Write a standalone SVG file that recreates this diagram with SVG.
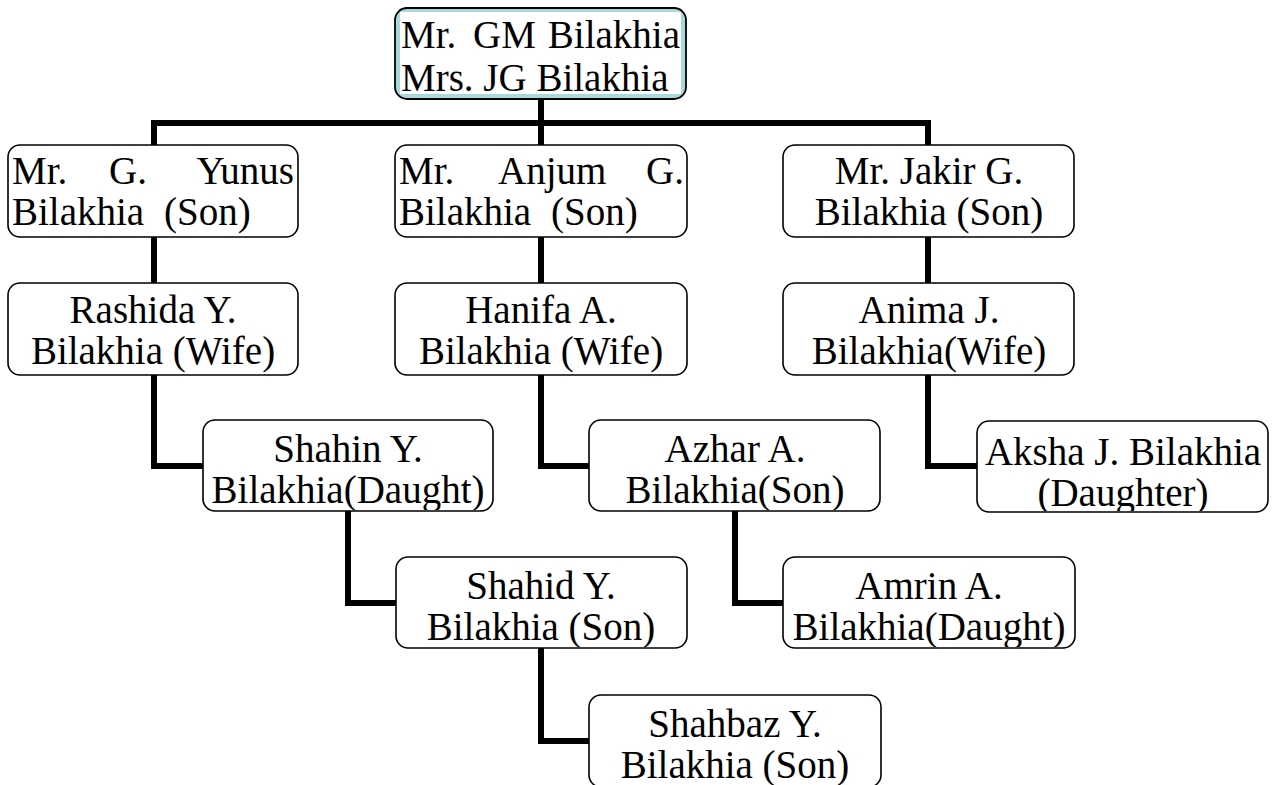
<svg xmlns="http://www.w3.org/2000/svg" width="1274" height="785" viewBox="0 0 1274 785">
  <style>
    .box { fill: #ffffff; stroke: #000000; stroke-width: 1.6; }
    .txt { font-family: "Liberation Serif", "Times New Roman", serif; font-size: 39px; fill: #000000; }
    .mid { text-anchor: middle; }
    .end { text-anchor: end; }
    .conn { fill: none; stroke: #000000; stroke-width: 6; stroke-linejoin: miter; stroke-linecap: butt; }
  </style>
  <defs>
    <clipPath id="c0"><rect x="395" y="8" width="291" height="91"/></clipPath>
    <clipPath id="c1"><rect x="8" y="145" width="290" height="92"/></clipPath>
    <clipPath id="c2"><rect x="395" y="145" width="292" height="92"/></clipPath>
    <clipPath id="c3"><rect x="783" y="145" width="291" height="92"/></clipPath>
    <clipPath id="c4"><rect x="8" y="283" width="290" height="92"/></clipPath>
    <clipPath id="c5"><rect x="395" y="283" width="292" height="92"/></clipPath>
    <clipPath id="c6"><rect x="783" y="283" width="291" height="92"/></clipPath>
    <clipPath id="c7"><rect x="203" y="420" width="290" height="90"/></clipPath>
    <clipPath id="c8"><rect x="589" y="420" width="291" height="90"/></clipPath>
    <clipPath id="c9"><rect x="977" y="421" width="291" height="90"/></clipPath>
    <clipPath id="c10"><rect x="396" y="557" width="291" height="90"/></clipPath>
    <clipPath id="c11"><rect x="783" y="557" width="292" height="90"/></clipPath>
    <clipPath id="c12"><rect x="589" y="695" width="292" height="92"/></clipPath>
  </defs>
  <rect x="0" y="0" width="1274" height="785" fill="#ffffff"/>

  <g id="connectors">
    <path class="conn" d="M541,99 V145"/>
    <path class="conn" d="M154,145 V123 H928 V145"/>
    <path class="conn" d="M154,237 V283"/>
    <path class="conn" d="M541,237 V283"/>
    <path class="conn" d="M928,237 V283"/>
    <path class="conn" d="M154,375 V466 H203"/>
    <path class="conn" d="M541,375 V466 H589"/>
    <path class="conn" d="M928,375 V466 H977"/>
    <path class="conn" d="M348,511 V603 H396"/>
    <path class="conn" d="M735,511 V603 H783"/>
    <path class="conn" d="M541,648 V741 H589"/>
  </g>

  <g id="n0">
    <rect x="395" y="8" width="291" height="91" rx="12" fill="#a9d9da" stroke="#000" stroke-width="1.8"/>
    <rect x="400" y="12" width="281" height="82" fill="#ffffff"/>
    <g clip-path="url(#c0)">
      <text class="txt" y="48"><tspan x="401">Mr.</tspan><tspan x="473">GM</tspan><tspan x="680" class="end">Bilakhia</tspan></text>
      <text class="txt" x="401" y="91">Mrs. JG Bilakhia</text>
    </g>
  </g>

  <g id="n1">
    <rect class="box" x="8" y="145" width="290" height="92" rx="12"/>
    <g clip-path="url(#c1)">
      <text class="txt" y="184"><tspan x="12">Mr.</tspan><tspan x="109">G.</tspan><tspan x="294" class="end">Yunus</tspan></text>
      <text class="txt" y="225"><tspan x="12">Bilakhia</tspan><tspan x="164">(Son)</tspan></text>
    </g>
  </g>

  <g id="n2">
    <rect class="box" x="395" y="145" width="292" height="92" rx="12"/>
    <g clip-path="url(#c2)">
      <text class="txt" y="184"><tspan x="399">Mr.</tspan><tspan x="498">Anjum</tspan><tspan x="684" class="end">G.</tspan></text>
      <text class="txt" y="225"><tspan x="399">Bilakhia</tspan><tspan x="551">(Son)</tspan></text>
    </g>
  </g>

  <g id="n3">
    <rect class="box" x="783" y="145" width="291" height="92" rx="12"/>
    <g clip-path="url(#c3)">
      <text class="txt mid" x="929" y="184">Mr. Jakir G.</text>
      <text class="txt mid" x="929" y="225">Bilakhia (Son)</text>
    </g>
  </g>

  <g id="n4">
    <rect class="box" x="8" y="283" width="290" height="92" rx="12"/>
    <g clip-path="url(#c4)">
      <text class="txt mid" x="153" y="323">Rashida Y.</text>
      <text class="txt mid" x="153" y="364">Bilakhia (Wife)</text>
    </g>
  </g>

  <g id="n5">
    <rect class="box" x="395" y="283" width="292" height="92" rx="12"/>
    <g clip-path="url(#c5)">
      <text class="txt mid" x="541" y="323">Hanifa A.</text>
      <text class="txt mid" x="541" y="364">Bilakhia (Wife)</text>
    </g>
  </g>

  <g id="n6">
    <rect class="box" x="783" y="283" width="291" height="92" rx="12"/>
    <g clip-path="url(#c6)">
      <text class="txt mid" x="929" y="323">Anima J.</text>
      <text class="txt mid" x="929" y="364">Bilakhia(Wife)</text>
    </g>
  </g>

  <g id="n7">
    <rect class="box" x="203" y="420" width="290" height="91" rx="12"/>
    <g clip-path="url(#c7)">
      <text class="txt mid" x="348" y="462">Shahin Y.</text>
      <text class="txt mid" x="348" y="503">Bilakhia(Daught)</text>
    </g>
  </g>

  <g id="n8">
    <rect class="box" x="589" y="420" width="291" height="91" rx="12"/>
    <g clip-path="url(#c8)">
      <text class="txt mid" x="735" y="462">Azhar A.</text>
      <text class="txt mid" x="735" y="503">Bilakhia(Son)</text>
    </g>
  </g>

  <g id="n9">
    <rect class="box" x="977" y="421" width="291" height="91" rx="12"/>
    <g clip-path="url(#c9)">
      <text class="txt mid" x="1123" y="465">Aksha J. Bilakhia</text>
      <text class="txt mid" x="1123" y="506">(Daughter)</text>
    </g>
  </g>

  <g id="n10">
    <rect class="box" x="396" y="557" width="291" height="91" rx="12"/>
    <g clip-path="url(#c10)">
      <text class="txt mid" x="541" y="599">Shahid Y.</text>
      <text class="txt mid" x="541" y="640">Bilakhia (Son)</text>
    </g>
  </g>

  <g id="n11">
    <rect class="box" x="783" y="557" width="292" height="91" rx="12"/>
    <g clip-path="url(#c11)">
      <text class="txt mid" x="929" y="599">Amrin A.</text>
      <text class="txt mid" x="929" y="640">Bilakhia(Daught)</text>
    </g>
  </g>

  <g id="n12">
    <rect class="box" x="589" y="695" width="292" height="92" rx="12"/>
    <g clip-path="url(#c12)">
      <text class="txt mid" x="735" y="737">Shahbaz Y.</text>
      <text class="txt mid" x="735" y="778">Bilakhia (Son)</text>
    </g>
  </g>
</svg>
